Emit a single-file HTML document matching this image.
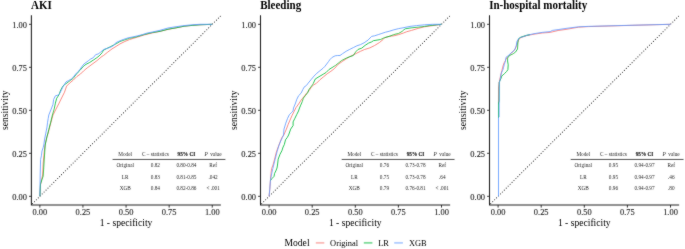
<!DOCTYPE html>
<html><head><meta charset="utf-8"><style>
html,body{margin:0;padding:0;background:#fff;width:685px;height:249px;overflow:hidden}
svg text{font-family:"Liberation Serif",serif}
</style></head><body>
<svg width="685" height="249" viewBox="0 0 685 249" style="display:block;will-change:transform"><defs><filter id="soft" x="0" y="0" width="685" height="249" filterUnits="userSpaceOnUse"><feConvolveMatrix order="3" kernelMatrix="1 2 1 2 28 2 1 2 1" divisor="40" edgeMode="none"/></filter></defs><g filter="url(#soft)"><text transform="translate(31.10,9.0) scale(1,1.04)" font-size="11" font-weight="bold" fill="#000">AKI</text><line x1="31.23" y1="204.90" x2="220.87" y2="15.70" stroke="#222" stroke-width="1.05" stroke-linecap="round" stroke-dasharray="0.01 2.725" stroke-dashoffset="0.935"/><polyline points="39.9,196.3 40.5,185.0 41.6,179.3 42.6,175.0 43.2,163.0 44.2,152.2 45.0,145.0 46.5,138.0 48.2,133.1 50.5,124.0 53.0,115.0 56.0,109.1 59.1,103.1 62.1,97.0 64.5,92.2 66.6,86.1 69.6,83.1 73.3,80.1 76.9,76.5 80.5,74.0 83.6,70.9 87.2,67.9 92.0,64.3 96.9,60.7 102.0,56.4 103.6,55.5 107.2,52.5 112.0,48.9 116.9,45.9 120.0,43.9 124.8,41.5 129.6,39.5 136.1,37.5 144.1,35.0 152.1,33.0 160.0,31.4 168.0,29.4 176.1,27.9 184.1,26.3 192.1,25.4 200.0,24.8 212.2,24.3" fill="none" stroke="#F8766D" stroke-width="0.85" stroke-linejoin="round"/><polyline points="39.9,196.3 40.5,184.0 43.2,176.0 44.4,157.0 45.2,145.0 47.0,136.7 48.8,129.5 50.7,122.2 52.4,115.0 54.2,109.1 55.4,103.1 56.7,98.3 59.1,94.6 60.3,91.0 62.1,87.4 63.9,85.0 66.0,83.7 70.8,80.1 73.3,78.3 75.7,75.0 78.1,72.2 80.0,70.3 83.6,66.1 86.0,64.3 89.6,62.5 93.3,60.1 96.9,57.7 99.9,55.2 102.0,52.8 103.6,50.1 107.2,48.3 110.8,46.5 112.0,45.9 116.9,43.4 120.0,41.5 124.8,39.9 129.6,38.3 136.1,36.9 144.1,34.5 152.1,32.6 160.0,31.3 168.0,29.2 176.1,27.8 184.1,26.2 192.1,25.4 200.0,24.8 212.2,24.3" fill="none" stroke="#00BA38" stroke-width="0.85" stroke-linejoin="round"/><polyline points="39.9,196.3 40.2,175.0 40.6,159.5 41.4,155.8 42.0,151.0 43.2,147.4 43.8,145.0 44.6,139.1 45.8,133.1 47.0,127.0 47.6,122.2 48.2,118.6 48.8,115.0 51.2,109.1 53.0,104.3 53.6,99.5 55.4,95.8 57.9,95.2 59.7,93.4 61.5,89.8 63.3,86.2 66.0,81.9 68.4,80.7 71.4,78.9 73.3,77.1 75.7,74.0 78.1,71.6 80.2,69.1 81.8,66.7 84.2,63.7 86.0,62.5 88.4,60.7 90.8,58.9 93.3,57.7 95.7,54.6 98.1,54.0 100.5,52.2 103.6,49.5 107.2,48.3 110.8,47.1 113.9,45.3 115.7,42.8 118.1,41.6 123.2,39.5 128.0,37.9 132.9,36.9 137.7,35.8 142.5,34.6 147.3,33.0 152.1,32.1 156.9,31.0 160.0,30.3 168.0,28.0 176.1,26.7 184.1,25.6 192.1,24.8 200.0,24.3 212.2,24.3" fill="none" stroke="#619CFF" stroke-width="0.85" stroke-linejoin="round"/><path d="M31.40,15.20V205.00H220.87" fill="none" stroke="#222" stroke-width="1.05"/><line x1="29.00" y1="196.30" x2="31.40" y2="196.30" stroke="#222" stroke-width="0.9"/><text x="26.90" y="199.65" font-size="8.4" text-anchor="end" fill="#1e1e1e" stroke="#1e1e1e" stroke-width="0.12">0.00</text><line x1="39.85" y1="205.00" x2="39.85" y2="207.60" stroke="#222" stroke-width="0.9"/><text transform="translate(39.85,215.45) scale(1,1.1)" font-size="8.4" text-anchor="middle" fill="#1e1e1e" stroke="#1e1e1e" stroke-width="0.12">0.00</text><line x1="29.00" y1="153.30" x2="31.40" y2="153.30" stroke="#222" stroke-width="0.9"/><text x="26.90" y="156.65" font-size="8.4" text-anchor="end" fill="#1e1e1e" stroke="#1e1e1e" stroke-width="0.12">0.25</text><line x1="82.95" y1="205.00" x2="82.95" y2="207.60" stroke="#222" stroke-width="0.9"/><text transform="translate(82.95,215.45) scale(1,1.1)" font-size="8.4" text-anchor="middle" fill="#1e1e1e" stroke="#1e1e1e" stroke-width="0.12">0.25</text><line x1="29.00" y1="110.30" x2="31.40" y2="110.30" stroke="#222" stroke-width="0.9"/><text x="26.90" y="113.65" font-size="8.4" text-anchor="end" fill="#1e1e1e" stroke="#1e1e1e" stroke-width="0.12">0.50</text><line x1="126.05" y1="205.00" x2="126.05" y2="207.60" stroke="#222" stroke-width="0.9"/><text transform="translate(126.05,215.45) scale(1,1.1)" font-size="8.4" text-anchor="middle" fill="#1e1e1e" stroke="#1e1e1e" stroke-width="0.12">0.50</text><line x1="29.00" y1="67.30" x2="31.40" y2="67.30" stroke="#222" stroke-width="0.9"/><text x="26.90" y="70.65" font-size="8.4" text-anchor="end" fill="#1e1e1e" stroke="#1e1e1e" stroke-width="0.12">0.75</text><line x1="169.15" y1="205.00" x2="169.15" y2="207.60" stroke="#222" stroke-width="0.9"/><text transform="translate(169.15,215.45) scale(1,1.1)" font-size="8.4" text-anchor="middle" fill="#1e1e1e" stroke="#1e1e1e" stroke-width="0.12">0.75</text><line x1="29.00" y1="24.30" x2="31.40" y2="24.30" stroke="#222" stroke-width="0.9"/><text x="26.90" y="27.65" font-size="8.4" text-anchor="end" fill="#1e1e1e" stroke="#1e1e1e" stroke-width="0.12">1.00</text><line x1="212.25" y1="205.00" x2="212.25" y2="207.60" stroke="#222" stroke-width="0.9"/><text transform="translate(212.25,215.45) scale(1,1.1)" font-size="8.4" text-anchor="middle" fill="#1e1e1e" stroke="#1e1e1e" stroke-width="0.12">1.00</text><text x="126.05" y="225.7" font-size="9.6" text-anchor="middle" fill="#000">1 - specificity</text><text transform="translate(8.30,110.30) rotate(-90)" font-size="9.6" text-anchor="middle" fill="#000">sensitivity</text><g font-size="5.25" fill="#2a2a2a"><text x="125.20" y="156.0" text-anchor="middle">Model</text><text x="155.35" y="156.0" text-anchor="middle">C – statistics</text><text x="186.45" y="156.0" text-anchor="middle" font-weight="bold" fill="#111" stroke="#111" stroke-width="0.12">95% CI</text><text x="204.50" y="156.0"><tspan font-style="italic">P</tspan><tspan x="210.20">value</tspan></text><line x1="112.60" y1="159.45" x2="225.40" y2="159.45" stroke="#333" stroke-width="0.85"/><text x="125.20" y="166.90" text-anchor="middle">Original</text><text x="155.35" y="166.90" text-anchor="middle">0.82</text><text x="186.45" y="166.90" text-anchor="middle">0.80-0.84</text><text x="213.15" y="166.90" text-anchor="middle">Ref</text><text x="125.20" y="178.50" text-anchor="middle">LR</text><text x="155.35" y="178.50" text-anchor="middle">0.83</text><text x="186.45" y="178.50" text-anchor="middle">0.81-0.85</text><text x="213.15" y="178.50" text-anchor="middle">.042</text><text x="125.20" y="190.10" text-anchor="middle">XGB</text><text x="155.35" y="190.10" text-anchor="middle">0.84</text><text x="186.45" y="190.10" text-anchor="middle">0.82-0.86</text><text x="213.15" y="190.10" text-anchor="middle">< .001</text></g><text transform="translate(260.20,9.0) scale(1,1.04)" font-size="11" font-weight="bold" fill="#000">Bleeding</text><line x1="260.48" y1="204.90" x2="450.12" y2="15.70" stroke="#222" stroke-width="1.05" stroke-linecap="round" stroke-dasharray="0.01 2.725" stroke-dashoffset="0.935"/><polyline points="269.1,196.3 269.8,189.1 270.4,180.7 271.0,173.4 271.6,168.6 273.0,165.0 274.6,159.1 276.4,151.9 278.2,147.0 280.0,142.2 281.9,137.4 283.8,135.0 286.4,129.1 288.2,124.3 290.0,120.1 291.9,115.8 293.9,111.8 296.0,107.6 298.6,104.0 301.2,100.0 302.6,98.3 304.5,95.9 306.5,93.3 308.9,90.8 311.3,87.2 313.5,85.0 316.4,83.3 320.0,79.7 323.7,76.7 327.3,73.7 330.9,71.3 334.5,68.5 337.8,64.6 342.7,61.2 346.3,58.8 349.7,56.7 353.3,54.9 356.9,53.1 360.5,51.3 364.5,49.5 369.8,47.9 374.6,45.5 379.5,42.5 383.1,39.5 384.9,37.7 389.1,36.4 393.9,35.8 398.7,34.6 403.5,33.0 406.8,31.7 411.6,30.4 418.1,28.4 424.5,26.8 430.9,25.9 436.5,25.1 441.5,24.3" fill="none" stroke="#F8766D" stroke-width="0.85" stroke-linejoin="round"/><polyline points="270.4,180.7 272.2,178.3 274.0,176.4 274.6,173.4 275.8,171.0 277.0,168.0 277.5,165.0 278.2,159.1 280.0,154.3 281.9,150.7 283.1,147.0 284.3,144.6 285.5,139.8 287.3,137.4 288.6,135.0 290.7,129.1 293.1,125.5 293.1,121.9 294.9,118.3 296.7,114.6 298.5,111.0 299.5,108.0 300.4,105.9 302.2,101.7 303.4,98.1 305.3,95.7 307.7,92.7 308.9,89.6 310.7,87.2 312.5,84.8 313.4,83.3 315.2,79.1 317.0,77.9 320.0,76.1 323.1,74.3 326.1,72.5 329.1,69.4 332.1,67.6 335.7,65.3 338.5,63.0 341.5,60.6 346.1,58.2 349.7,56.7 353.3,55.5 355.7,51.9 358.1,49.4 361.7,48.2 365.2,45.3 368.6,43.1 371.6,41.9 373.4,40.7 377.0,40.1 380.7,39.5 384.3,37.7 389.1,36.4 393.9,34.6 398.7,33.4 402.2,31.4 403.6,30.0 405.2,28.8 410.0,28.0 418.1,27.2 424.5,26.4 429.3,25.6 434.1,25.1 441.5,24.3" fill="none" stroke="#00BA38" stroke-width="0.85" stroke-linejoin="round"/><polyline points="269.1,196.3 269.2,195.0 269.8,189.1 270.4,180.7 271.0,177.0 272.0,172.2 272.8,168.6 273.7,165.0 275.2,159.1 277.0,151.9 278.8,145.8 280.7,141.0 282.5,137.4 283.5,135.0 284.0,129.1 285.8,123.1 287.6,118.3 289.4,114.6 291.3,112.8 293.1,111.0 293.5,108.0 295.2,104.0 296.8,99.3 298.6,95.7 301.0,93.3 302.8,89.6 304.0,87.2 306.5,85.4 308.2,83.1 311.0,79.7 314.0,76.1 317.0,73.1 320.0,70.7 323.1,68.2 324.9,66.4 326.7,64.0 328.5,61.6 329.8,59.7 332.2,57.3 335.2,55.8 337.6,55.5 340.0,55.5 342.5,53.7 346.1,51.3 349.7,49.4 353.3,47.6 356.9,45.8 360.5,44.6 364.1,42.8 368.0,40.1 371.6,36.4 374.6,35.8 378.3,34.6 381.9,33.4 385.5,32.2 389.1,31.3 393.9,29.8 398.7,28.6 402.0,28.0 406.0,27.2 410.0,26.4 416.5,25.6 424.5,24.8 432.5,24.3 441.5,24.3" fill="none" stroke="#619CFF" stroke-width="0.85" stroke-linejoin="round"/><path d="M260.50,15.20V205.00H450.12" fill="none" stroke="#222" stroke-width="1.05"/><line x1="258.10" y1="196.30" x2="260.50" y2="196.30" stroke="#222" stroke-width="0.9"/><text x="256.00" y="199.65" font-size="8.4" text-anchor="end" fill="#1e1e1e" stroke="#1e1e1e" stroke-width="0.12">0.00</text><line x1="269.10" y1="205.00" x2="269.10" y2="207.60" stroke="#222" stroke-width="0.9"/><text transform="translate(269.10,215.45) scale(1,1.1)" font-size="8.4" text-anchor="middle" fill="#1e1e1e" stroke="#1e1e1e" stroke-width="0.12">0.00</text><line x1="258.10" y1="153.30" x2="260.50" y2="153.30" stroke="#222" stroke-width="0.9"/><text x="256.00" y="156.65" font-size="8.4" text-anchor="end" fill="#1e1e1e" stroke="#1e1e1e" stroke-width="0.12">0.25</text><line x1="312.20" y1="205.00" x2="312.20" y2="207.60" stroke="#222" stroke-width="0.9"/><text transform="translate(312.20,215.45) scale(1,1.1)" font-size="8.4" text-anchor="middle" fill="#1e1e1e" stroke="#1e1e1e" stroke-width="0.12">0.25</text><line x1="258.10" y1="110.30" x2="260.50" y2="110.30" stroke="#222" stroke-width="0.9"/><text x="256.00" y="113.65" font-size="8.4" text-anchor="end" fill="#1e1e1e" stroke="#1e1e1e" stroke-width="0.12">0.50</text><line x1="355.30" y1="205.00" x2="355.30" y2="207.60" stroke="#222" stroke-width="0.9"/><text transform="translate(355.30,215.45) scale(1,1.1)" font-size="8.4" text-anchor="middle" fill="#1e1e1e" stroke="#1e1e1e" stroke-width="0.12">0.50</text><line x1="258.10" y1="67.30" x2="260.50" y2="67.30" stroke="#222" stroke-width="0.9"/><text x="256.00" y="70.65" font-size="8.4" text-anchor="end" fill="#1e1e1e" stroke="#1e1e1e" stroke-width="0.12">0.75</text><line x1="398.40" y1="205.00" x2="398.40" y2="207.60" stroke="#222" stroke-width="0.9"/><text transform="translate(398.40,215.45) scale(1,1.1)" font-size="8.4" text-anchor="middle" fill="#1e1e1e" stroke="#1e1e1e" stroke-width="0.12">0.75</text><line x1="258.10" y1="24.30" x2="260.50" y2="24.30" stroke="#222" stroke-width="0.9"/><text x="256.00" y="27.65" font-size="8.4" text-anchor="end" fill="#1e1e1e" stroke="#1e1e1e" stroke-width="0.12">1.00</text><line x1="441.50" y1="205.00" x2="441.50" y2="207.60" stroke="#222" stroke-width="0.9"/><text transform="translate(441.50,215.45) scale(1,1.1)" font-size="8.4" text-anchor="middle" fill="#1e1e1e" stroke="#1e1e1e" stroke-width="0.12">1.00</text><text x="355.30" y="225.7" font-size="9.6" text-anchor="middle" fill="#000">1 - specificity</text><text transform="translate(237.40,110.30) rotate(-90)" font-size="9.6" text-anchor="middle" fill="#000">sensitivity</text><g font-size="5.25" fill="#2a2a2a"><text x="354.30" y="156.0" text-anchor="middle">Model</text><text x="384.45" y="156.0" text-anchor="middle">C – statistics</text><text x="415.55" y="156.0" text-anchor="middle" font-weight="bold" fill="#111" stroke="#111" stroke-width="0.12">95% CI</text><text x="433.60" y="156.0"><tspan font-style="italic">P</tspan><tspan x="439.30">value</tspan></text><line x1="341.70" y1="159.45" x2="454.50" y2="159.45" stroke="#333" stroke-width="0.85"/><text x="354.30" y="166.90" text-anchor="middle">Original</text><text x="384.45" y="166.90" text-anchor="middle">0.76</text><text x="415.55" y="166.90" text-anchor="middle">0.73-0.78</text><text x="442.25" y="166.90" text-anchor="middle">Ref</text><text x="354.30" y="178.50" text-anchor="middle">LR</text><text x="384.45" y="178.50" text-anchor="middle">0.75</text><text x="415.55" y="178.50" text-anchor="middle">0.73-0.78</text><text x="442.25" y="178.50" text-anchor="middle">.64</text><text x="354.30" y="190.10" text-anchor="middle">XGB</text><text x="384.45" y="190.10" text-anchor="middle">0.79</text><text x="415.55" y="190.10" text-anchor="middle">0.76-0.81</text><text x="442.25" y="190.10" text-anchor="middle">< .001</text></g><text transform="translate(489.20,9.0) scale(1,1.04)" font-size="11" font-weight="bold" fill="#000">In-hospital mortality</text><line x1="489.48" y1="204.90" x2="679.12" y2="15.70" stroke="#222" stroke-width="1.05" stroke-linecap="round" stroke-dasharray="0.01 2.725" stroke-dashoffset="0.935"/><polyline points="498.5,104.0 498.5,88.0 499.2,82.3 500.6,75.7 501.8,70.8 503.0,66.0 504.2,62.4 504.8,62.0 506.0,59.1 507.8,56.7 509.6,54.9 512.0,52.5 514.5,50.1 516.3,46.5 517.5,42.8 518.7,39.8 520.5,38.0 522.9,36.8 526.8,35.6 534.0,34.2 542.1,33.0 550.1,32.4 558.1,30.5 566.0,29.4 578.6,27.2 588.2,26.6 630.0,25.4 670.5,24.3" fill="none" stroke="#F8766D" stroke-width="0.85" stroke-linejoin="round"/><polyline points="498.5,118.0 498.5,103.0 499.1,101.0 499.2,90.0 499.3,82.3 500.0,80.5 501.2,78.1 501.8,75.7 503.0,75.1 504.8,73.3 506.7,71.4 507.9,69.6 508.2,64.8 507.6,61.0 507.6,58.0 509.6,55.5 513.3,53.7 515.7,51.9 517.5,48.9 517.8,44.0 518.1,40.4 519.3,38.0 521.7,36.8 526.8,35.3 530.0,34.6" fill="none" stroke="#00BA38" stroke-width="0.85" stroke-linejoin="round"/><polyline points="498.5,196.3 498.5,117.6 499.1,117.0 499.2,90.0 499.3,82.3 500.0,80.5 500.6,76.9 501.2,73.9 501.8,72.0 502.4,70.8 503.0,69.6 503.6,67.2 504.2,64.8 505.4,61.2 506.0,57.3 507.8,56.1 510.8,53.1 513.3,51.3 515.1,48.9 516.3,45.3 516.9,41.6 518.1,39.2 520.5,37.4 523.5,36.6 526.8,35.3 534.0,33.7 542.1,32.4 550.1,31.6 552.5,30.4 558.1,29.6 566.0,28.4 578.6,26.8 588.2,26.4 630.0,25.3 670.5,24.3" fill="none" stroke="#619CFF" stroke-width="0.85" stroke-linejoin="round"/><path d="M489.50,15.20V205.00H679.12" fill="none" stroke="#222" stroke-width="1.05"/><line x1="487.10" y1="196.30" x2="489.50" y2="196.30" stroke="#222" stroke-width="0.9"/><text x="485.00" y="199.65" font-size="8.4" text-anchor="end" fill="#1e1e1e" stroke="#1e1e1e" stroke-width="0.12">0.00</text><line x1="498.10" y1="205.00" x2="498.10" y2="207.60" stroke="#222" stroke-width="0.9"/><text transform="translate(498.10,215.45) scale(1,1.1)" font-size="8.4" text-anchor="middle" fill="#1e1e1e" stroke="#1e1e1e" stroke-width="0.12">0.00</text><line x1="487.10" y1="153.30" x2="489.50" y2="153.30" stroke="#222" stroke-width="0.9"/><text x="485.00" y="156.65" font-size="8.4" text-anchor="end" fill="#1e1e1e" stroke="#1e1e1e" stroke-width="0.12">0.25</text><line x1="541.20" y1="205.00" x2="541.20" y2="207.60" stroke="#222" stroke-width="0.9"/><text transform="translate(541.20,215.45) scale(1,1.1)" font-size="8.4" text-anchor="middle" fill="#1e1e1e" stroke="#1e1e1e" stroke-width="0.12">0.25</text><line x1="487.10" y1="110.30" x2="489.50" y2="110.30" stroke="#222" stroke-width="0.9"/><text x="485.00" y="113.65" font-size="8.4" text-anchor="end" fill="#1e1e1e" stroke="#1e1e1e" stroke-width="0.12">0.50</text><line x1="584.30" y1="205.00" x2="584.30" y2="207.60" stroke="#222" stroke-width="0.9"/><text transform="translate(584.30,215.45) scale(1,1.1)" font-size="8.4" text-anchor="middle" fill="#1e1e1e" stroke="#1e1e1e" stroke-width="0.12">0.50</text><line x1="487.10" y1="67.30" x2="489.50" y2="67.30" stroke="#222" stroke-width="0.9"/><text x="485.00" y="70.65" font-size="8.4" text-anchor="end" fill="#1e1e1e" stroke="#1e1e1e" stroke-width="0.12">0.75</text><line x1="627.40" y1="205.00" x2="627.40" y2="207.60" stroke="#222" stroke-width="0.9"/><text transform="translate(627.40,215.45) scale(1,1.1)" font-size="8.4" text-anchor="middle" fill="#1e1e1e" stroke="#1e1e1e" stroke-width="0.12">0.75</text><line x1="487.10" y1="24.30" x2="489.50" y2="24.30" stroke="#222" stroke-width="0.9"/><text x="485.00" y="27.65" font-size="8.4" text-anchor="end" fill="#1e1e1e" stroke="#1e1e1e" stroke-width="0.12">1.00</text><line x1="670.50" y1="205.00" x2="670.50" y2="207.60" stroke="#222" stroke-width="0.9"/><text transform="translate(670.50,215.45) scale(1,1.1)" font-size="8.4" text-anchor="middle" fill="#1e1e1e" stroke="#1e1e1e" stroke-width="0.12">1.00</text><text x="584.30" y="225.7" font-size="9.6" text-anchor="middle" fill="#000">1 - specificity</text><text transform="translate(466.40,110.30) rotate(-90)" font-size="9.6" text-anchor="middle" fill="#000">sensitivity</text><g font-size="5.25" fill="#2a2a2a"><text x="583.30" y="156.0" text-anchor="middle">Model</text><text x="613.45" y="156.0" text-anchor="middle">C – statistics</text><text x="644.55" y="156.0" text-anchor="middle" font-weight="bold" fill="#111" stroke="#111" stroke-width="0.12">95% CI</text><text x="662.60" y="156.0"><tspan font-style="italic">P</tspan><tspan x="668.30">value</tspan></text><line x1="570.70" y1="159.45" x2="683.50" y2="159.45" stroke="#333" stroke-width="0.85"/><text x="583.30" y="166.90" text-anchor="middle">Original</text><text x="613.45" y="166.90" text-anchor="middle">0.95</text><text x="644.55" y="166.90" text-anchor="middle">0.94-0.97</text><text x="671.25" y="166.90" text-anchor="middle">Ref</text><text x="583.30" y="178.50" text-anchor="middle">LR</text><text x="613.45" y="178.50" text-anchor="middle">0.95</text><text x="644.55" y="178.50" text-anchor="middle">0.94-0.97</text><text x="671.25" y="178.50" text-anchor="middle">.46</text><text x="583.30" y="190.10" text-anchor="middle">XGB</text><text x="613.45" y="190.10" text-anchor="middle">0.96</text><text x="644.55" y="190.10" text-anchor="middle">0.94-0.97</text><text x="671.25" y="190.10" text-anchor="middle">.80</text></g><text x="284.5" y="246.1" font-size="9.6">Model</text><line x1="315.8" y1="242.85" x2="324.3" y2="242.85" stroke="#F8766D" stroke-width="1.8" stroke-opacity="0.5"/><text x="330.1" y="246.1" font-size="8.4">Original</text><line x1="363.8" y1="242.85" x2="372.4" y2="242.85" stroke="#00BA38" stroke-width="1.8" stroke-opacity="0.5"/><text x="378.2" y="246.1" font-size="8.4">LR</text><line x1="394.2" y1="242.85" x2="402.9" y2="242.85" stroke="#619CFF" stroke-width="1.8" stroke-opacity="0.5"/><text x="408.9" y="246.1" font-size="8.4">XGB</text></g></svg>
</body></html>
